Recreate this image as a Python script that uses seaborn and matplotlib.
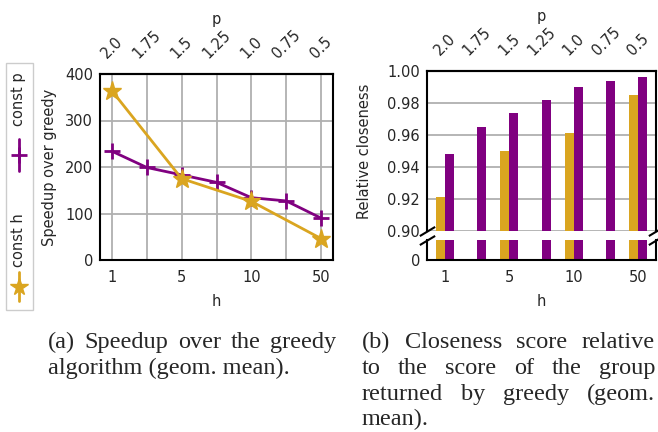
import matplotlib
matplotlib.use("Agg")
import matplotlib.pyplot as plt
from matplotlib.lines import Line2D
from matplotlib.patches import Rectangle
import seaborn as sns
import pandas as pd

# data
positions = [0, 1, 2, 3, 4, 5, 6]
h_labels = ["1", "", "5", "", "10", "", "50"]
p_labels = ["2.0", "1.75", "1.5", "1.25", "1.0", "0.75", "0.5"]

speedup_const_p = [234, 199, 183, 167, 134, 127, 90]
const_h_positions = [0, 2, 4, 6]
speedup_const_h = [364, 175, 126, 46]

closeness_const_p = [0.948, 0.965, 0.974, 0.982, 0.990, 0.994, 0.996]
closeness_const_h = [0.921, 0.950, 0.961, 0.985]

PURPLE = "purple"
GOLD = "goldenrod"
W, H = 658, 432

sns.set_style("whitegrid", {
    "axes.edgecolor": "black",
    "grid.color": "#b0b0b0",
    "xtick.bottom": False,
    "ytick.left": False,
})
plt.rcParams["font.family"] = ["DejaVu Sans"]
plt.rcParams.update({
    "font.size": 10.5,
    "axes.labelsize": 10.5,
    "xtick.labelsize": 10.5,
    "ytick.labelsize": 10.5,
    "axes.linewidth": 1.5,
    "grid.linewidth": 1.3,
    "xtick.major.size": 0,
    "ytick.major.size": 0,
    "xtick.major.pad": 7,
    "ytick.major.pad": 5,
})


def box(x0, y0, x1, y1):
    # pixel box (top-left origin) -> figure fraction rect
    return [x0 / W, 1 - y1 / H, (x1 - x0) / W, (y1 - y0) / H]


fig = plt.figure(figsize=(W / 100, H / 100), dpi=100)

# ---------------- (a) speedup line chart ----------------
ax1 = fig.add_axes(box(100, 74, 333, 260))
sns.lineplot(x=positions, y=speedup_const_p, ax=ax1, color=PURPLE, linewidth=2,
             marker="+", markersize=12, markeredgewidth=2, markeredgecolor=PURPLE, zorder=3)
sns.lineplot(x=const_h_positions, y=speedup_const_h, ax=ax1, color=GOLD, linewidth=2,
             marker="*", markersize=14, markeredgewidth=1, markeredgecolor=GOLD, zorder=3)
ax1.set_xlim(-0.34, 6.34)
ax1.set_ylim(0, 400)
ax1.set_yticks([0, 100, 200, 300, 400])
ax1.set_xticks(positions, h_labels)
ax1.set_xlabel("h", labelpad=7)
ax1.set_ylabel("Speedup over greedy", labelpad=6)
top1 = ax1.secondary_xaxis("top")
top1.set_xticks(positions, p_labels, rotation=45)
top1.tick_params(length=0, pad=9)
top1.set_xlabel("p", labelpad=3)
for s in ax1.spines.values():
    s.set_linewidth(1.5)

# ---------------- (b) closeness bar chart, broken y axis ----------------
bars = pd.DataFrame({
    "pos": positions + const_h_positions,
    "series": ["const p"] * len(positions) + ["const h"] * len(const_h_positions),
    "value": closeness_const_p + closeness_const_h,
})

ax2t = fig.add_axes(box(427, 71, 656, 231))
ax2b = fig.add_axes(box(427, 240, 656, 260))
for ax in (ax2t, ax2b):
    sns.barplot(data=bars, x="pos", y="value", hue="series", order=positions,
                hue_order=["const h", "const p"], palette=[GOLD, PURPLE],
                width=0.56, saturation=1, errorbar=None, legend=False,
                edgecolor="none", linewidth=0, ax=ax)
    ax.set_xlim(-0.55, 6.55)
    ax.set_axisbelow(True)
    ax.grid(axis="x", visible=False)
    ax.set_ylabel("")

ax2t.set_ylim(0.9, 1.0)
ax2t.set_yticks([0.90, 0.92, 0.94, 0.96, 0.98, 1.00])
ax2t.set_yticklabels([f"{v:.2f}" for v in ax2t.get_yticks()])
ax2t.tick_params(axis="x", labelbottom=False)
ax2t.set_xlabel("")
ax2t.spines["bottom"].set_visible(False)
ax2t.set_ylabel("Relative closeness", labelpad=11)
top2 = ax2t.secondary_xaxis("top")
top2.set_xticks(positions, p_labels, rotation=45)
top2.tick_params(length=0, pad=9)
top2.set_xlabel("p", labelpad=3)

ax2b.set_ylim(0, 0.05)
ax2b.set_yticks([0])
ax2b.set_yticklabels(["0"])
ax2b.grid(False)
ax2b.spines["top"].set_visible(False)
ax2b.set_xticks(positions, h_labels)
ax2b.set_xlabel("h", labelpad=7)
for ax in (ax2t, ax2b):
    for s in ax.spines.values():
        s.set_linewidth(1.5)

# break marks
d = 0.6
brk = dict(marker=[(-1, -d), (1, d)], markersize=11, linestyle="none",
           color="k", mec="k", mew=1.5, clip_on=False)
ax2t.plot([0, 1], [0, 0], transform=ax2t.transAxes, **brk)
ax2b.plot([0, 1], [1, 1], transform=ax2b.transAxes, **brk)

# ---------------- rotated legend on the far left ----------------
fig.add_artist(Rectangle((6 / W, 1 - 310 / H), 27 / W, 247 / H, transform=fig.transFigure,
                         facecolor="white", edgecolor="#cccccc", linewidth=1))
lx = 18.5 / W
for color, marker, ms, (ya, yb), ym, label, yt in [
    (GOLD, "*", 13, (272, 301), 287, "const h", 240),
    (PURPLE, "+", 12, (139, 171), 155, "const p", 99),
]:
    fig.add_artist(Line2D([lx, lx], [1 - ya / H, 1 - yb / H], color=color, linewidth=2,
                          transform=fig.transFigure))
    fig.add_artist(Line2D([lx], [1 - ym / H], color=color, marker=marker, markersize=ms,
                          markeredgewidth=2 if marker == "+" else 1, markeredgecolor=color,
                          linestyle="none", transform=fig.transFigure))
    fig.text(lx, 1 - yt / H, label, rotation=90, ha="center", va="center", fontsize=10.5)

# ---------------- justified captions ----------------
cap_kw = dict(fontsize=17.5, family="Liberation Serif", va="baseline", ha="left")
renderer = fig.canvas.get_renderer()


def caption(lines, x0, x1, baselines):
    for k, (line, yb) in enumerate(zip(lines, baselines)):
        y = 1 - yb / H
        words = line.split()
        if k == len(lines) - 1 or len(words) == 1:
            fig.text(x0 / W, y, line, **cap_kw)
            continue
        texts = [fig.text(0, y, w, **cap_kw) for w in words]
        widths = [t.get_window_extent(renderer).width for t in texts]
        gap = (x1 - x0 - sum(widths)) / (len(words) - 1)
        x = x0
        for t, w in zip(texts, widths):
            t.set_x(x / W)
            x += w + gap


caption(["(a) Speedup over the greedy", "algorithm (geom. mean)."],
        48, 336, [348, 374])
caption(["(b) Closeness score relative", "to the score of the group",
         "returned by greedy (geom.", "mean)."],
        362, 655, [348, 374, 400, 425])

fig.savefig("out.png", dpi=100)
